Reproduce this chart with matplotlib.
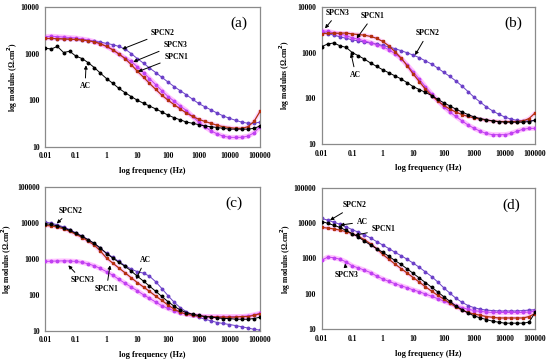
import numpy as np
import matplotlib
matplotlib.use('Agg')
import matplotlib.pyplot as plt

plt.rcParams['font.family'] = ['Liberation Serif', 'DejaVu Serif']
plt.rcParams['font.weight'] = 'bold'

#---------------------------------------------------------------------------data
freq = [0.01, 0.016, 0.025, 0.04, 0.063, 0.1, 0.16, 0.25, 0.4, 0.63,
        1, 1.6, 2.5, 4, 6.3, 10, 16, 25, 40, 63,
        100, 160, 250, 400, 630, 1000, 1600, 2500, 4000, 6300,
        10000, 16000, 25000, 40000, 63000, 100000]

# panel (a)
a_ac = [1300, 1250, 1420, 1050, 1120, 880, 780, 640, 500, 380, 290, 230, 180, 145, 120, 100, 86, 75,
        65, 56, 48, 42, 38, 34, 32, 30, 28, 27, 26, 25, 24, 24, 24, 24, 25, 28]
a_spcn1 = [2100, 2100, 2080, 2050, 2020, 2000, 1950, 1880, 1780, 1620, 1420, 1200, 980, 780, 580, 420, 310, 230,
           170, 128, 100, 80, 65, 53, 45, 39, 35, 32, 29, 27, 26, 25, 25, 27, 35, 58]
a_spcn2 = [2100, 2100, 2080, 2060, 2040, 2000, 1960, 1900, 1840, 1750, 1650, 1550, 1420, 1250, 1000, 780, 620, 490,
           390, 310, 245, 195, 160, 130, 105, 85, 72, 62, 53, 46, 41, 37, 34, 32, 32, 34]
a_spcn3 = [2300, 2350, 2300, 2250, 2200, 2150, 2050, 1950, 1800, 1620, 1420, 1200, 980, 800, 680, 520, 390, 290,
           215, 160, 120, 95, 75, 60, 45, 34, 27, 22, 19, 17, 16, 16, 16, 17, 20, 27]

# panel (b)
b_ac = [1350, 1550, 1620, 1400, 1300, 1000, 850, 720, 590, 500, 420, 360, 310, 265, 220, 180, 155, 135,
        115, 95, 80, 68, 58, 50, 44, 39, 36, 34, 32, 31, 30, 30, 30, 30, 31, 33]
b_spcn1 = [2600, 2620, 2650, 2650, 2680, 2550, 2480, 2400, 2250, 2050, 1750, 1400, 1050, 760, 520, 340, 230, 160,
           115, 88, 70, 58, 50, 44, 40, 37, 35, 33, 32, 31, 31, 31, 31, 32, 36, 48]
b_spcn2 = [2800, 2600, 2400, 2200, 2050, 1900, 1800, 1700, 1620, 1520, 1430, 1330, 1220, 1100, 990, 880, 770, 660,
           560, 460, 370, 300, 240, 185, 140, 105, 82, 65, 53, 45, 39, 35, 33, 32, 32, 33]
b_spcn3 = [3000, 2900, 2700, 2550, 2350, 2100, 1950, 1800, 1650, 1500, 1350, 1150, 950, 740, 540, 380, 260, 180,
           125, 90, 66, 50, 40, 32, 26, 22, 19, 17, 16, 16, 16, 17, 19, 21, 22, 22]

# panel (c)
c_ac = [9500, 9000, 8200, 7300, 6200, 5100, 4200, 3400, 2700, 2000, 1400, 1050, 800, 620, 460, 330, 240, 175,
        125, 90, 65, 48, 38, 32, 29, 27, 25, 24, 23, 22, 22, 21, 21, 21, 22, 24]
c_spcn1 = [8500, 8200, 7600, 6800, 5800, 4800, 3900, 3100, 2400, 1650, 1050, 760, 560, 410, 300, 220, 165, 125,
           92, 70, 52, 40, 33, 29, 27, 26, 25, 25, 24, 24, 24, 24, 25, 25, 27, 30]
c_spcn2 = [10500, 9800, 8800, 7700, 6500, 5300, 4300, 3400, 2600, 1950, 1450, 1100, 850, 650, 520, 440, 400, 330,
           230, 150, 95, 62, 44, 34, 28, 24, 21, 19, 17, 16, 15, 14, 13, 12, 11, 10.5]
c_spcn3 = [850, 860, 870, 880, 870, 850, 800, 730, 640, 540, 440, 350, 270, 210, 165, 130, 100, 80,
           63, 50, 42, 36, 32, 29, 27, 26, 25, 25, 25, 25, 25, 25, 25, 26, 28, 31]

# panel (d)
d_ac = [11000, 9800, 8600, 7500, 6200, 5000, 4000, 3100, 2400, 1900, 1500, 1150, 880, 680, 510, 380, 280, 210,
        155, 115, 84, 62, 46, 36, 29, 24, 21, 19, 17, 16, 15, 15, 15, 15, 16, 30]
d_spcn1 = [7500, 7200, 6800, 6300, 5700, 5000, 4200, 3400, 2600, 1900, 1300, 950, 700, 520, 390, 290, 215, 160,
           120, 92, 72, 55, 43, 35, 30, 27, 25, 23, 22, 21, 21, 21, 21, 21, 23, 28]
d_spcn2 = [13500, 12000, 10500, 9200, 7800, 6500, 5500, 4600, 3800, 3000, 2400, 1900, 1500, 1200, 950, 740, 560, 420,
           310, 220, 150, 105, 76, 58, 47, 41, 37, 35, 34, 33, 33, 33, 33, 34, 35, 36]
d_spcn3 = [900, 1100, 1050, 950, 800, 620, 540, 470, 400, 320, 265, 225, 195, 170, 150, 130, 115, 100,
           86, 74, 63, 54, 47, 41, 37, 34, 32, 31, 30, 30, 30, 30, 30, 30, 31, 33]

xticks = [0.01, 0.1, 1, 10, 100, 1000, 10000, 100000]
xticklabels = ['0.01', '0.1', '1', '10', '100', '1000', '10000', '100000']

#--------------------------------------------------------------------------style
c_ac_col = 'black'
c_s1 = '#b3300f'
c_s2 = '#6b40c8'
c_s3 = '#c040f2'
halo = '#ffa8ff'

fig = plt.figure(figsize=(5.5, 3.6), dpi=100)

boxes = {'a': [0.082, 0.592, 0.391, 0.389],
         'b': [0.585, 0.600, 0.388, 0.381],
         'c': [0.082, 0.081, 0.391, 0.400],
         'd': [0.585, 0.085, 0.388, 0.394]}

data = {'a': (a_ac, a_spcn1, a_spcn2, a_spcn3, (10, 10000)),
        'b': (b_ac, b_spcn1, b_spcn2, b_spcn3, (10, 10000)),
        'c': (c_ac, c_spcn1, c_spcn2, c_spcn3, (10, 100000)),
        'd': (d_ac, d_spcn1, d_spcn2, d_spcn3, (10, 100000))}

# label text, xytext (data), arrow tip (data)
notes = {'a': [('SPCN2', (69, 2750), (3.2, 1240)),
               ('SPCN3', (170, 1540), (7.4, 660)),
               ('SPCN1', (185, 850), (10.7, 410)),
               ('AC', (0.2, 200), (0.215, 560))],
         'b': [('SPCN3', (0.034, 7400), (0.0128, 3380)),
               ('SPCN1', (0.48, 6300), (0.14, 2040)),
               ('SPCN2', (30, 2630), (11.5, 880)),
               ('AC', (0.13, 325), (0.091, 960))],
         'c': [('SPCN2', (0.065, 21500), (0.024, 9600)),
               ('SPCN3', (0.16, 257), (0.057, 660)),
               ('SPCN1', (1.0, 150), (1.3, 660)),
               ('AC', (18, 920), (9.2, 274))],
         'd': [('SPCN2', (0.123, 31700), (0.0187, 12000)),
               ('AC', (0.21, 10700), (0.04, 8700)),
               ('SPCN1', (1.05, 6600), (0.123, 4500)),
               ('SPCN3', (0.066, 340), (0.058, 720))]}

panel_pos = {'a': (0.90, 0.885), 'b': (0.90, 0.88), 'c': (0.88, 0.885), 'd': (0.89, 0.875)}
ylab_x = {'a': -0.118, 'b': -0.14, 'c': -0.145, 'd': -0.135}

for key in ['a', 'b', 'c', 'd']:
    ax = fig.add_axes(boxes[key])
    ac, s1, s2, s3, ylim = data[key]

    #---halos
    ax.plot(freq, s3, color=halo, lw=3.5, alpha=0.7, solid_capstyle='round', zorder=1)
    ax.plot(freq, s1, color=halo, lw=3.0, alpha=0.5, solid_capstyle='round', zorder=1)

    ax.plot(freq, s2, color=c_s2, lw=0.7, marker='o', ms=1.8, zorder=2)
    ax.plot(freq, s3, color=c_s3, lw=0.7, marker='o', ms=1.8, zorder=3)
    ax.plot(freq, s1, color=c_s1, lw=0.9, marker='s', ms=1.8, zorder=4)
    ax.plot(freq, ac, color=c_ac_col, lw=0.7, marker='o', ms=1.8, zorder=5)

    ax.set_xscale('log')
    ax.set_yscale('log')
    ax.set_xlim(0.01, 100000)
    ax.set_ylim(*ylim)
    ax.set_xticks(xticks)
    ax.set_xticklabels(xticklabels)
    ax.minorticks_off()
    yt = [10 ** k for k in range(1, int(np.log10(ylim[1])) + 1)]
    ax.set_yticks(yt)
    ax.set_yticklabels([str(v) for v in yt])
    ax.tick_params(length=0, labelsize=5.5, pad=4)
    for s in ax.spines.values():
        s.set_color('#8a8a8a')
        s.set_linewidth(0.9)

    ax.set_xlabel('log frequency (Hz)', fontsize=6, fontweight='bold', labelpad=5)
    ax.set_ylabel('log modulus (\u03a9.cm$^2$)', fontsize=5.5, fontweight='bold')
    ax.yaxis.set_label_coords(ylab_x[key], 0.5)

    for txt, xyt, tip in notes[key]:
        ax.annotate(txt, xy=tip, xytext=xyt, fontsize=5.5, fontweight='bold',
                    ha='center', va='center',
                    arrowprops=dict(arrowstyle='-|>', color='black', lw=0.7,
                                    mutation_scale=5, shrinkA=1, shrinkB=0),
                    zorder=6)

    ax.text(panel_pos[key][0], panel_pos[key][1], '(' + key + ')', transform=ax.transAxes,
            fontsize=11, fontweight='normal', ha='center', va='center')

fig.savefig('out.png', dpi=100)
